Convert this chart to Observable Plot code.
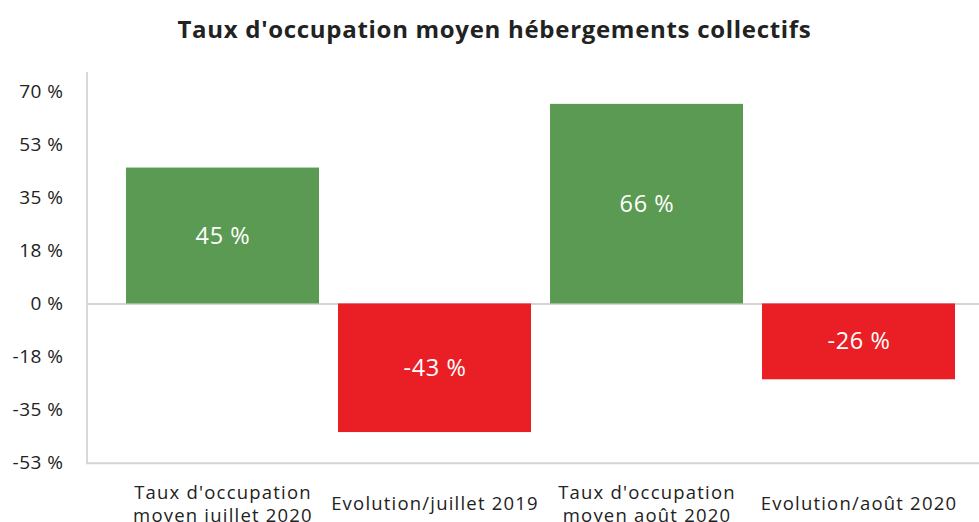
<!DOCTYPE html>
<html>
<head>
<meta charset="utf-8">
<script src="https://cdn.jsdelivr.net/npm/d3@7"></script>
<script src="https://cdn.jsdelivr.net/npm/@observablehq/plot@0.6"></script>
<style>
  html, body { margin: 0; padding: 0; background: #fff; }
  #wrap { width: 979px; height: 522px; position: relative; overflow: hidden; }
  #title { height: 56px; box-sizing: border-box; padding-top: 12px; padding-left: 10px; text-align: center;
           font-family: "Open Sans", sans-serif; font-weight: 700; font-size: 24px; color: #222; letter-spacing: 0.7px; white-space: nowrap; }
  svg { display: block; }
  .catlab text { letter-spacing: 1.2px; }
  .vallab text { letter-spacing: 0.6px; }
  .yax text { letter-spacing: 0.5px; }
</style>
</head>
<body>
<div id="wrap">
  <div id="title">Taux d'occupation moyen hébergements collectifs</div>
  <div id="chart"></div>
</div>
<script>
const categories = ["Taux d'occupation\nmoyen juillet 2020", "Evolution/juillet 2019", "Taux d'occupation\nmoyen août 2020", "Evolution/août 2020"];
const values = [44.8, -42.4, 65.8, -25.0];
const valueLabels = ["45 %", "-43 %", "66 %", "-26 %"];
const yTicks = [70, 52.5, 35, 17.5, 0, -17.5, -35, -52.5];
const yTickLabels = ["70 %", "53 %", "35 %", "18 %", "0 %", "-18 %", "-35 %", "-53 %"];

const data = categories.map((c, i) => ({cat: c, value: values[i], label: valueLabels[i]}));
const green = "#5b9a52", red = "#ea1f26";
const font = "'Open Sans', sans-serif";

const chart = Plot.plot({
  width: 979,
  height: 466,
  marginTop: 16,
  marginBottom: 59.3,
  marginLeft: 86.5,
  marginRight: 0,
  style: {fontFamily: font, color: "#222", background: "#fff"},
  x: {domain: categories, range: [126, 955], paddingInner: 0.09, paddingOuter: 0, axis: null},
  y: {domain: [-52.5, 76.3], axis: null},
  marks: [
    Plot.axisY({ticks: yTicks, tickSize: 0, tickPadding: 23.5, fontSize: 19, className: "yax", tickFormat: d => yTickLabels[yTicks.indexOf(d)], label: null}),
    Plot.frame({anchor: "left", stroke: "#bfbfbf", strokeWidth: 1.2}),
    Plot.frame({anchor: "bottom", stroke: "#d4d4d4", strokeWidth: 2}),
    Plot.ruleY([0], {stroke: "#d4d4d4", strokeWidth: 2}),
    Plot.barY(data, {x: "cat", y: "value", fill: d => d.value >= 0 ? green : red}),
    Plot.text(data, {x: "cat", y: d => d.value / 2, text: "label", fill: "white", fontSize: 23.5, className: "vallab"}),
    Plot.text(data, {x: "cat", y: () => -52.5, dy: 39.5, text: "cat", lineAnchor: "middle", fontSize: 18.5, className: "catlab", fill: "#222", lineHeight: 1.25})
  ]
});
document.getElementById("chart").appendChild(chart);
</script>
</body>
</html>
